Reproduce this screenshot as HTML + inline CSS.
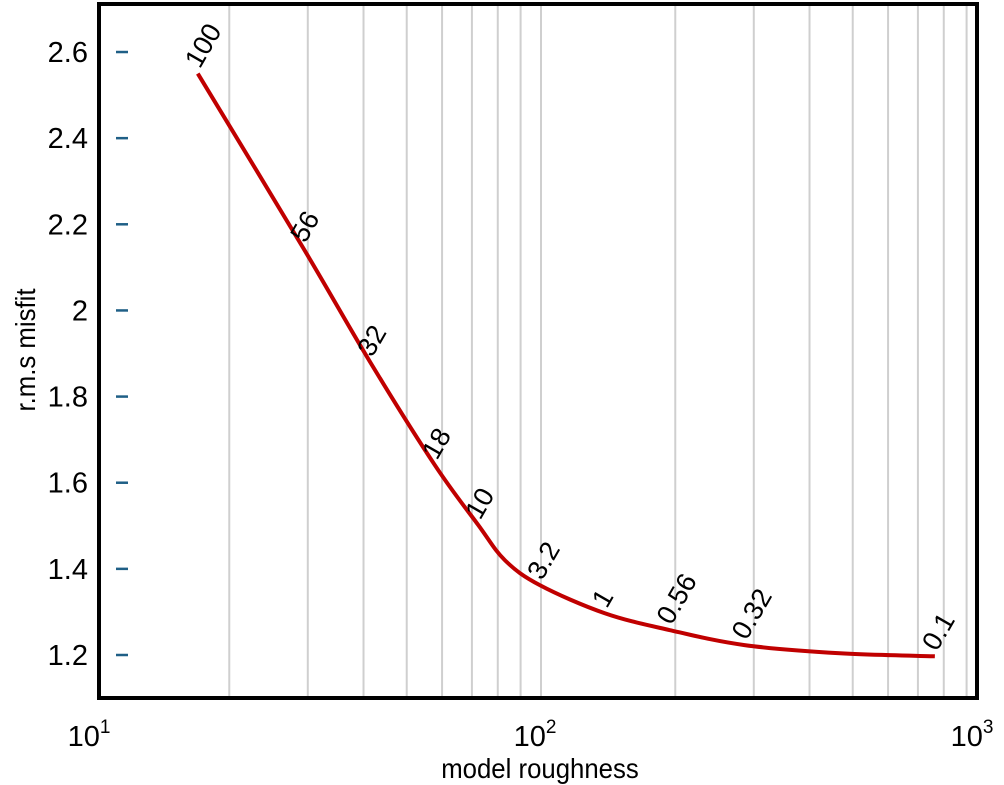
<!DOCTYPE html>
<html><head><meta charset="utf-8"><style>
html,body{margin:0;padding:0;background:#fff;}
svg{display:block;font-family:"Liberation Sans",sans-serif;}
</style></head><body>
<svg id="chart" width="1004" height="785">
<g id="grid"></g><g id="yaxis"></g><g id="xaxis"></g><g id="series"></g>
<rect x="99" y="4" width="878" height="694" fill="none" stroke="#000" stroke-width="4"/>
<text x="540" y="778" font-size="28" text-anchor="middle" transform="translate(540,0) scale(0.92,1) translate(-540,0)">model roughness</text>
<text transform="translate(35,350) rotate(-90) scale(0.92,1)" font-size="28" text-anchor="middle">r.m.s misfit</text>
</svg>
<script>
const roughness=[17.0,29.3,41.4,57.8,72.3,83.0,99.5,139,194,286,468,764];
const misfit=[2.55,2.145,1.88,1.641,1.502,1.42,1.362,1.297,1.258,1.223,1.204,1.197];
const pointLabels=["100","56","32","18","10","","3.2","1","0.56","0.32","","0.1"];
const yTicks=[1.2,1.4,1.6,1.8,2,2.2,2.4,2.6];
const yTickLabels=["1.2","1.4","1.6","1.8","2","2.2","2.4","2.6"];
const gridVals=[20,30,40,50,60,70,80,90,100,200,300,400,500,600,700,800,900];
const xTickVals=[10,100,1000];
const xTickExp=["1","2","3"];
const NS="http://www.w3.org/2000/svg";
const X=v=>95+446*(Math.log10(v)-1);
const Y=v=>655-(v-1.2)*430.7;
function mk(tag,attrs,parent){const e=document.createElementNS(NS,tag);for(const k in attrs)e.setAttribute(k,attrs[k]);document.getElementById(parent).appendChild(e);return e;}
gridVals.forEach(v=>{const l=mk('line',{x1:X(v),x2:X(v),y1:6,y2:696,stroke:'#cfcfcf','stroke-width':2},'grid');

});
yTicks.forEach((v,i)=>{const t=mk('line',{x1:116,x2:128,y1:Y(v),y2:Y(v),stroke:'#1f5f86','stroke-width':2.5},'yaxis');


const tx=mk('text',{x:88,y:Y(v)+10,'font-size':29,'text-anchor':'end'},'yaxis');tx.textContent=yTickLabels[i];

});
xTickVals.forEach((v,i)=>{const cx=Math.min(X(v),978);const tx=mk('text',{x:cx-6,y:746,'font-size':29,'text-anchor':'middle'},'xaxis');
tx.innerHTML='10<tspan dy="-13" font-size="19">'+xTickExp[i]+'</tspan>';

});
const pts=roughness.map((r,i)=>[X(r),Y(misfit[i])]);
let d='M'+pts[0][0]+','+pts[0][1];
for(let i=0;i<pts.length-1;i++){const p0=pts[Math.max(i-1,0)],p1=pts[i],p2=pts[i+1],p3=pts[Math.min(i+2,pts.length-1)];
d+=` C${p1[0]+(p2[0]-p0[0])/6},${p1[1]+(p2[1]-p0[1])/6} ${p2[0]-(p3[0]-p1[0])/6},${p2[1]-(p3[1]-p1[1])/6} ${p2[0]},${p2[1]}`;}
const path=mk('path',{d:d,fill:'none',stroke:'#c00000','stroke-width':4,'stroke-linejoin':'round'},'series');


pointLabels.forEach((s,i)=>{if(!s)return;const [x,y]=pts[i];
const t=mk('text',{transform:`translate(${x+2},${y-4}) rotate(-60)`,'font-size':27},'series');t.textContent=s;

});
</script>
</body></html>
